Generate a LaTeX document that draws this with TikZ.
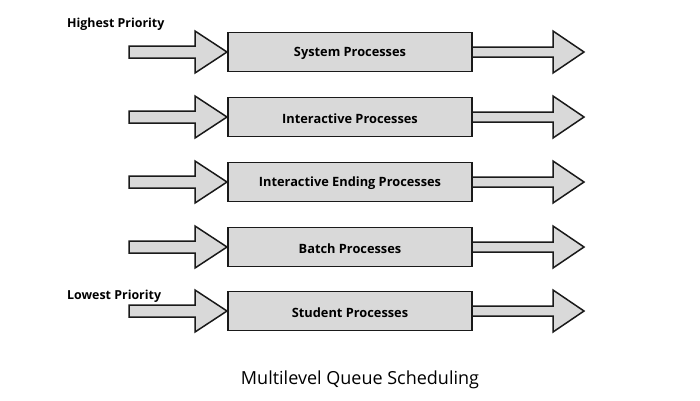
\documentclass[tikz,border=0pt]{standalone}
\usepackage{fontspec}
\setmainfont{Open Sans}
\usetikzlibrary{calc}
\definecolor{boxgray}{HTML}{D9D9D9}
\definecolor{edgegray}{HTML}{1A1A1A}
\tikzset{
  procbox/.style={draw=edgegray, fill=boxgray, line width=1.5pt, minimum width=244pt,
    minimum height=39pt, inner sep=0pt, font=\bfseries\fontsize{12.8}{14}\selectfont},
  proctext/.style={font=\bfseries\fontsize{12.8}{14}\selectfont, inner sep=0pt},
  blockarr/.style={draw=edgegray, fill=boxgray, line width=1.5pt, line join=miter},
  prio/.style={font=\bfseries\fontsize{12.4}{14}\selectfont, anchor=west, inner sep=0pt},
  titletext/.style={font=\fontsize{18}{21}\selectfont, inner sep=0pt},
}
\begin{document}
\begin{tikzpicture}[x=1pt,y=-1pt]
\useasboundingbox (0,0) rectangle (700,400);
\foreach \name/\y/\txt in {b1/52/System Processes, b2/117/Interactive Processes,
    b3/182/Interactive Ending Processes, b4/247/Batch Processes, b5/311/Student Processes} {
  \coordinate (W\name) at (228,\y);
  \coordinate (E\name) at (472,\y);
  \draw[blockarr] ($(W\name)+(-99,-6)$) -- ($(W\name)+(-33,-6)$) -- ($(W\name)+(-33,-21)$)
    -- ($(W\name)+(-1,0)$) -- ($(W\name)+(-33,21)$) -- ($(W\name)+(-33,6)$)
    -- ($(W\name)+(-99,6)$) -- cycle;
  \draw[blockarr] ($(E\name)+(0,-5)$) -- ($(E\name)+(81,-5)$) -- ($(E\name)+(81,-21)$)
    -- ($(E\name)+(112,0)$) -- ($(E\name)+(81,21)$) -- ($(E\name)+(81,5)$)
    -- ($(E\name)+(0,5)$) -- cycle;
  \node[procbox] (\name) at (350,\y) {};
  \node[proctext] (t\name) at (350,\y+1.5) {\txt};
}
\node[prio] (hi) at (67,24.5) {Highest Priority};
\node[prio] (lo) at (67,296.5) {Lowest Priority};
\node[titletext] (title) at (360,380) {Multilevel Queue Scheduling};
\end{tikzpicture}
\end{document}
